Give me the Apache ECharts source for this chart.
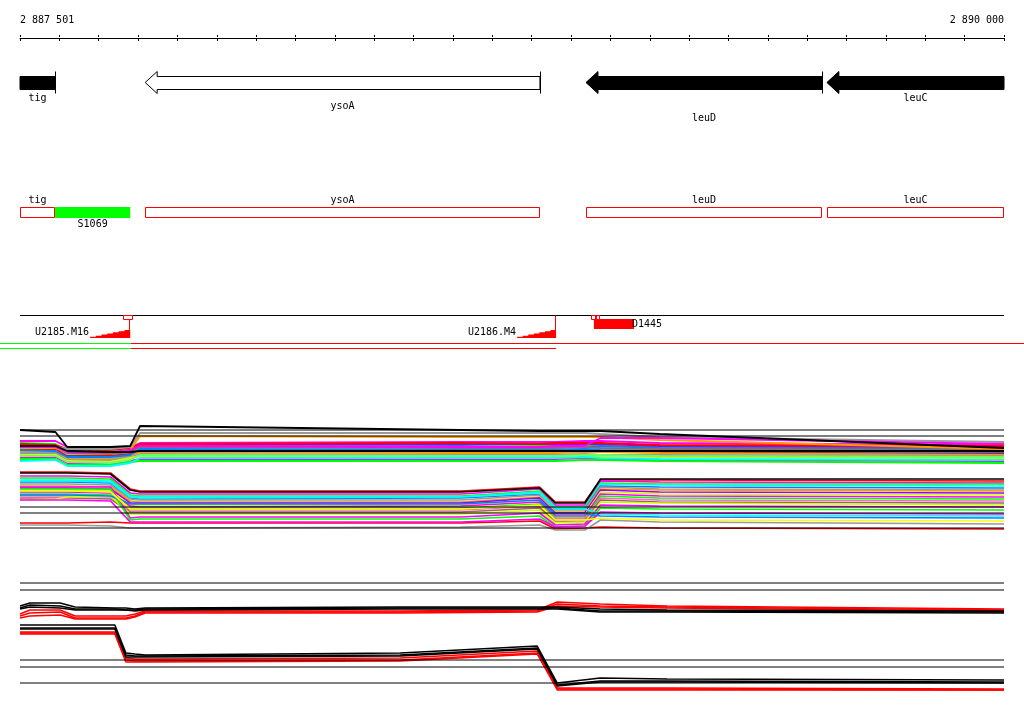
<!DOCTYPE html>
<html><head><meta charset="utf-8">
<script src="https://cdn.jsdelivr.net/npm/echarts@6/dist/echarts.min.js"></script>
<style>html,body{margin:0;padding:0;background:#fff}#c{width:1024px;height:714px}</style>
</head><body><div id="c"></div>
<script>
// ================= DATA =================
const axisMin = 2887500, axisMax = 2890000, tickStep = 100;
const rulerPos = [2887500, 2890000];
const rulerLabels = ['2 887 501', '2 890 000'];

const geneNames  = ['tig', 'ysoA', 'leuD', 'leuC'];
const geneStart  = [2887300, 2887818, 2888938, 2889550];
const geneEnd    = [2887589, 2888821, 2889538, 2890300];
const geneStrand = ['-', '-', '-', '-'];
const geneKind   = ['known', 'putative', 'known', 'known'];

const featNames = ['S1069'];
const featStart = [2887589];
const featEnd   = [2887780];

const breakNames = ['U2185.M16', 'U2186.M4', 'D1445'];
const breakStart = [2887678, 2888763, 2888958];
const breakEnd   = [2887780, 2888862, 2889060];
const breakType  = ['up', 'up', 'down'];
const markStart  = [2887762, 2888951, 2888963];
const markEnd    = [2887787, 2888963, 2888974];

const segStart = [2887449, 2887782, 2887449, 2887782];
const segEnd   = [2887782, 2890051, 2887782, 2888862];
const segRow   = [0, 0, 1, 1];
const segState = ['A', 'B', 'A', 'B'];

// expression panel 1 (sample positions, bp)
const xPos1 = [2887500, 2887590, 2887620, 2887730, 2887780, 2887805, 2888620, 2888820, 2888860, 2888935, 2888975, 2889125, 2890000];
const panel1Upper = [
  [9.9,9.9,9.3,9.2,9.3,9.7,9.8,9.8,9.8,9.9,9.9,9.7,9.5],
  [9.7,9.6,9.0,8.9,9.1,9.4,9.3,9.4,9.4,9.4,9.4,9.3,9.2],
  [9.3,9.4,8.6,8.5,8.8,9.2,9.1,9.1,9.1,9.2,9.2,9.0,8.8],
  [9.5,9.3,8.8,8.7,8.9,9.3,9.4,9.3,9.3,9.3,9.4,9.2,9.1],
  [9.1,9.1,8.4,8.4,8.6,9.0,8.9,8.9,8.9,9.0,8.9,8.8,8.6],
  [8.9,8.8,8.2,8.1,8.4,8.8,8.7,8.7,8.7,8.8,8.8,8.7,8.5],
  [8.7,8.7,8.0,8.0,8.3,8.6,8.5,8.5,8.5,8.6,8.5,8.5,8.4],
  [8.5,8.5,7.9,7.8,8.2,8.4,8.3,8.3,8.3,8.4,8.4,8.3,8.2],
  [9.4,9.3,8.9,8.8,8.9,9.5,9.6,9.6,9.6,9.6,9.6,9.4,9.3],
  [8.3,8.3,7.7,7.6,7.9,8.1,8.0,8.0,8.1,8.2,8.1,8.0,7.9],
  [8.1,8.1,7.5,7.5,7.8,7.9,7.9,7.9,7.9,8.0,8.0,7.9,7.7],
  [7.9,8.0,7.4,7.4,7.7,8.2,8.2,8.2,8.2,8.3,8.2,8.1,8.0],
  [9.6,9.5,9.1,9.0,9.2,9.6,9.7,9.6,9.7,9.7,9.7,9.5,9.4],
  [9.0,8.9,8.3,8.3,8.5,9.1,9.0,9.0,9.0,9.1,9.0,8.9,8.8],
  [9.2,9.2,8.7,8.6,8.8,9.3,9.2,9.2,9.2,9.3,9.2,9.1,9.0],
  [8.4,8.4,7.8,7.7,8.0,8.5,8.4,8.4,8.4,8.5,8.5,8.4,8.3],
  [9.3,9.3,9.1,9.1,9.3,10.7,10.7,10.7,10.7,10.7,10.6,10.3,9.8],
  [9.2,9.2,8.8,8.8,9.0,10.4,10.3,10.3,10.3,10.3,10.3,10.0,9.1],
  [9.3,9.3,8.8,8.8,9.0,9.4,9.3,9.3,9.4,9.4,10.2,10.2,9.6],
  [9.4,9.4,8.9,8.8,8.8,8.9,8.9,8.9,8.9,8.9,8.9,8.9,8.9],
  [11.0,10.8,9.3,9.3,9.4,11.4,11.0,10.9,10.9,10.9,10.9,10.6,9.2]
];
const panel1Lower = [
  [6.8,6.8,6.8,6.7,5.1,4.9,4.9,5.3,3.8,3.8,6.0,6.0,5.9],
  [6.4,6.4,6.4,6.3,4.7,4.6,4.6,5.1,3.5,3.5,5.9,5.8,5.7],
  [6.2,6.2,6.2,6.1,4.5,4.4,4.4,4.9,3.3,3.3,5.7,5.6,5.6],
  [6.0,6.0,6.0,5.9,4.4,4.3,4.3,4.8,3.2,3.2,5.6,5.5,5.4],
  [5.8,5.8,5.8,5.7,4.2,4.1,4.2,4.6,3.1,3.1,5.4,5.3,5.2],
  [5.6,5.6,5.6,5.5,4.1,4.0,4.0,4.5,3.0,3.0,5.3,5.1,5.0],
  [5.4,5.4,5.4,5.3,3.9,3.8,3.8,4.3,2.8,2.8,5.1,5.0,4.9],
  [5.2,5.2,5.2,5.1,3.7,3.7,3.7,4.2,2.7,2.7,5.0,4.8,4.7],
  [5.0,5.0,5.0,4.9,3.5,3.5,3.5,4.0,2.5,2.5,4.8,4.6,4.5],
  [4.8,4.8,4.8,4.7,3.4,3.3,3.4,3.8,2.4,2.4,4.6,4.4,4.3],
  [4.6,4.6,4.6,4.5,3.2,3.2,3.2,3.6,2.2,2.2,4.4,4.2,4.1],
  [4.4,4.4,4.4,4.3,3.0,3.0,3.0,3.4,2.1,2.1,4.2,4.0,3.9],
  [4.2,4.2,4.2,4.1,2.8,2.8,2.8,3.2,1.9,1.9,4.0,3.8,3.7],
  [4.0,4.1,4.3,4.4,2.6,2.6,2.6,3.0,1.7,1.8,3.8,3.7,3.5],
  [5.3,5.3,5.3,5.3,2.2,2.3,2.3,2.7,1.5,1.6,3.5,3.4,3.3],
  [5.1,5.1,5.1,5.1,2.0,2.1,2.1,2.4,1.3,1.4,3.2,3.1,3.0],
  [1.7,1.7,1.7,1.8,1.7,1.7,1.7,1.9,1.1,1.2,1.3,1.2,1.1],
  [1.5,1.5,1.5,1.4,1.2,1.2,1.3,1.5,1.0,1.0,2.0,1.8,1.6],
  [5.9,5.9,5.9,5.8,4.3,4.2,4.3,4.7,3.1,3.1,2.6,2.5,2.4],
  [4.0,4.0,4.0,3.9,1.8,1.8,1.8,2.1,1.3,1.4,2.8,2.7,2.6],
  [4.5,4.5,4.5,4.4,3.6,3.6,3.6,4.0,2.6,2.6,2.4,2.3,2.2],
  [4.9,4.9,4.9,4.8,3.1,3.1,3.1,3.5,2.0,2.0,2.2,2.0,1.9],
  [6.7,6.7,6.7,6.6,5.0,4.8,4.8,5.2,3.7,3.7,6.1,6.1,6.1]
];
const refs1 = [11.0, 10.4, 3.3, 2.7, 1.2];

// expression panel 2
const xPos2 = [2887500, 2887525, 2887602, 2887640, 2887741, 2887769, 2887792, 2887818, 2888466, 2888814, 2888865, 2888974, 2889144, 2890000];
const panel2Lines = [
  [7.9,8.3,8.3,7.7,7.7,7.7,7.9,8.2,8.2,8.3,9.1,8.9,8.7,8.4],
  [7.7,8.0,8.1,7.5,7.5,7.5,7.7,8.1,8.1,8.2,8.9,8.7,8.6,8.3],
  [7.5,7.7,7.8,7.4,7.4,7.4,7.6,8.0,8.0,8.1,8.7,8.6,8.5,8.2],
  [6.1,6.1,6.1,6.1,6.1,3.5,3.4,3.4,3.5,4.2,0.5,0.5,0.5,0.4],
  [6.0,6.0,6.0,6.0,6.0,3.3,3.2,3.2,3.3,4.0,0.4,0.4,0.4,0.3],
  [5.9,5.9,5.9,5.9,5.9,3.1,3.1,3.1,3.2,3.9,0.3,0.3,0.3,0.3],
  [8.7,9.0,9.0,8.6,8.5,8.5,8.4,8.5,8.6,8.6,8.6,8.4,8.3,8.2],
  [8.5,8.8,8.7,8.4,8.4,8.3,8.3,8.4,8.5,8.5,8.5,8.2,8.2,8.1],
  [8.4,8.6,8.5,8.3,8.3,8.3,8.2,8.3,8.4,8.4,8.4,8.1,8.1,8.0],
  [6.8,6.8,6.8,6.8,6.8,4.0,3.9,3.8,4.0,4.7,1.0,1.5,1.4,1.3],
  [6.5,6.5,6.5,6.5,6.5,3.8,3.7,3.7,3.8,4.5,0.8,1.2,1.2,1.1],
  [6.4,6.4,6.4,6.4,6.4,3.6,3.6,3.6,3.7,4.4,0.7,1.1,1.1,1.0]
];
const refs2 = [11.0, 10.3, 3.3, 2.6, 1.0];

// ================= STYLE / LAYOUT =================
const FONT = '10px "DejaVu Sans Mono", "Liberation Mono", monospace';
const upperColors = ['#ff00ff','#00ff00','#00ffff','#0080ff','#ff0000','#ff9900','#999999','#ccff00','#9900ff','#ff00ff','#00ff00','#00ffff','#ff0000','#0080ff','#996666','#66ff66','#999999','#ff9900','#ff00ff','#000000','#000000'];
const lowerColors = ['#ff0000','#ff00ff','#00ff00','#00ffff','#0080ff','#999999','#ff9900','#9900ff','#ccff00','#ff00ff','#00ff00','#ff66cc','#996666','#ccff00','#ff00ff','#00ff00','#ff0000','#999999','#00ffff','#ff00ff','#0080ff','#ffff00','#000000'];
const panel2Colors = ['#ff0000','#ff0000','#ff0000','#ff0000','#ff0000','#ff0000','#000000','#000000','#000000','#000000','#000000','#000000'];
const segColors = {A: '#00ff00', B: '#ff0000'};
const LAY = {
  rulerLabelY: 20,
  body: [76.5, 89.5], head: [71.5, 93.5], headLen: 12,
  geneLabelY: [98, 106, 118, 98],
  box: [207.5, 217.5], boxLabelY: 200, featLabelY: 224,
  baseY: 315.5, mark: [315.5, 319.5], triBottom: 338, triTop: 330, upLabelY: 332,
  down: [319, 329], downLabelY: 324,
  segY: [343.5, 348.5]
};

function clampX(params, a, b) {
  const cs = params.coordSys;
  return [Math.max(a, cs.x), Math.min(b, cs.x + cs.width), cs.x, cs.x + cs.width];
}
function txt(text, x, y, align) {
  return {type: 'text', style: {text, x, y, align: align || 'center', verticalAlign: 'middle', font: FONT, fill: '#000'}};
}

function renderRuler(params, api) {
  const i = api.value(2);
  const x = api.coord([api.value(0), 0])[0];
  return txt(rulerLabels[i], x, LAY.rulerLabelY, i === 0 ? 'left' : 'right');
}

function renderGene(params, api) {
  const i = api.value(2);
  const a = api.coord([api.value(0), 0])[0], b = api.coord([api.value(1), 0])[0];
  const [ca, cb, xmin, xmax] = clampX(params, a, b);
  const [y0, y1] = LAY.body, [h0, h1] = LAY.head, ym = (h0 + h1) / 2;
  const fill = geneKind[i] === 'known' ? '#000' : '#fff';
  let pts;
  if (geneStrand[i] === '-' && a >= xmin) {
    const xh = a + LAY.headLen;
    pts = [[cb, y0], [xh, y0], [xh, h0], [a, ym], [xh, h1], [xh, y1], [cb, y1]];
  } else if (geneStrand[i] === '+' && b <= xmax) {
    const xh = b - LAY.headLen;
    pts = [[ca, y0], [xh, y0], [xh, h0], [b, ym], [xh, h1], [xh, y1], [ca, y1]];
  } else {
    pts = [[ca, y0], [cb, y0], [cb, y1], [ca, y1]];
  }
  const ch = [{type: 'polygon', shape: {points: pts}, style: {fill, stroke: '#000', lineWidth: 1}}];
  const barX = geneStrand[i] === '-' ? b : a;
  if (barX >= xmin && barX <= xmax) {
    ch.push({type: 'line', shape: {x1: Math.round(barX) + 0.5, y1: h0, x2: Math.round(barX) + 0.5, y2: h1}, style: {stroke: '#000', lineWidth: 1}});
  }
  ch.push(txt(geneNames[i], (ca + cb) / 2, LAY.geneLabelY[i]));
  return {type: 'group', children: ch};
}

function renderBox(params, api) {
  const i = api.value(2);
  const a = api.coord([api.value(0), 0])[0], b = api.coord([api.value(1), 0])[0];
  const [ca, cb] = clampX(params, a, b);
  const [y0, y1] = LAY.box;
  return {type: 'group', children: [
    {type: 'rect', shape: {x: Math.round(ca) + 0.5, y: y0, width: Math.round(cb) - Math.round(ca) - 1, height: y1 - y0}, style: {fill: '#fff', stroke: '#ff0000', lineWidth: 1}},
    txt(geneNames[i], (ca + cb) / 2, LAY.boxLabelY)
  ]};
}

function renderFeat(params, api) {
  const i = api.value(2);
  const a = api.coord([api.value(0), 0])[0], b = api.coord([api.value(1), 0])[0];
  const [y0, y1] = LAY.box;
  return {type: 'group', children: [
    {type: 'rect', shape: {x: a, y: y0 - 0.5, width: b - a, height: y1 - y0 + 1}, style: {fill: '#00ff00'}},
    txt(featNames[i], (a + b) / 2, LAY.featLabelY)
  ]};
}

function renderBase(params, api) {
  const a = api.coord([api.value(0), 0])[0], b = api.coord([api.value(1), 0])[0];
  return {type: 'line', shape: {x1: a, y1: LAY.baseY, x2: b, y2: LAY.baseY}, style: {stroke: '#000', lineWidth: 1}};
}

function renderBreak(params, api) {
  const i = api.value(2);
  const a = api.coord([api.value(0), 0])[0], b = api.coord([api.value(1), 0])[0];
  if (breakType[i] === 'up') {
    const N = 7, H = LAY.triBottom - LAY.triTop, w = (b - a) / N, bot = LAY.triBottom;
    const pts = [[a, bot]];
    for (let k = 1; k <= N; k++) {
      const h = bot - H * k / N;
      pts.push([a + (k - 1) * w, h]);
      pts.push([a + k * w, h]);
    }
    pts.push([b, bot]);
    const xl = Math.round(b) - 0.5;
    return {type: 'group', children: [
      {type: 'polygon', shape: {points: pts}, style: {fill: '#ff0000'}},
      {type: 'line', shape: {x1: xl, y1: LAY.baseY, x2: xl, y2: bot}, style: {stroke: '#ff0000', lineWidth: 1}},
      txt(breakNames[i], a - 1, LAY.upLabelY, 'right')
    ]};
  }
  return {type: 'group', children: [
    {type: 'rect', shape: {x: a, y: LAY.down[0], width: b - a, height: LAY.down[1] - LAY.down[0]}, style: {fill: '#ff0000'}},
    txt(breakNames[i], b - 2, LAY.downLabelY, 'left')
  ]};
}

function renderMark(params, api) {
  const a = api.coord([api.value(0), 0])[0], b = api.coord([api.value(1), 0])[0];
  const [y0, y1] = LAY.mark;
  return {type: 'rect', shape: {x: Math.round(a) + 0.5, y: y0, width: Math.max(Math.round(b) - Math.round(a) - 1, 2), height: y1 - y0}, style: {fill: '#fff', stroke: '#ff0000', lineWidth: 1}};
}

function renderSeg(params, api) {
  const i = api.value(2);
  const a = api.coord([api.value(0), 0])[0], b = api.coord([api.value(1), 0])[0];
  const y = LAY.segY[segRow[i]] - 0.5;
  return {type: 'rect', shape: {x: a, y: y, width: b - a, height: 1}, style: {fill: segColors[segState[i]]}};
}

function custom(render, data, z) {
  return {type: 'custom', xAxisIndex: 0, yAxisIndex: 0, clip: false, silent: true, animation: false, z: z || 2,
    renderItem: render, data};
}
function idxData(starts, ends) { return starts.map((s, i) => [s, ends[i], i]); }

function lineS(xs, vals, color, axis, w) {
  return {type: 'line', xAxisIndex: axis + 1, yAxisIndex: axis, data: xs.map((x, k) => [x, vals[k]]),
    symbol: 'none', showSymbol: false, lineStyle: {color, width: w}, silent: true, animation: false};
}
function refS(v, axis) {
  return {type: 'line', xAxisIndex: axis + 1, yAxisIndex: axis, data: [[axisMin, v], [axisMax, v]],
    symbol: 'none', lineStyle: {color: '#000', width: 1}, silent: true, animation: false, z: 3};
}

const series = [];
series.push(custom(renderRuler, rulerPos.map((p, i) => [p, p, i])));
series.push(custom(renderGene, idxData(geneStart, geneEnd)));
series.push(custom(renderBox, idxData(geneStart, geneEnd)));
series.push(custom(renderFeat, idxData(featStart, featEnd), 3));
series.push(custom(renderBase, [[axisMin, axisMax, 0]]));
series.push(custom(renderBreak, idxData(breakStart, breakEnd), 3));
series.push(custom(renderMark, idxData(markStart, markEnd), 4));
series.push(custom(renderSeg, idxData(segStart, segEnd), 5));

panel1Upper.forEach((v, i) => series.push(lineS(xPos1, v, upperColors[i], 1, 1.8)));
panel1Lower.forEach((v, i) => series.push(lineS(xPos1, v, lowerColors[i], 1, 1.7)));
refs1.forEach(v => series.push(refS(v, 1)));
panel2Lines.forEach((v, i) => series.push(lineS(xPos2, v, panel2Colors[i], 2, 1.5)));
refs2.forEach(v => series.push(refS(v, 2)));

const hiddenX = (g) => ({gridIndex: g, type: 'value', min: axisMin, max: axisMax, show: false});
const option = {
  backgroundColor: '#fff',
  animation: false,
  grid: [
    {left: 20, right: 20, top: 37, height: 1},
    {left: 20, right: 20, top: 420, height: 120},
    {left: 20, right: 20, top: 573, height: 120}
  ],
  xAxis: [
    {gridIndex: 0, type: 'value', position: 'bottom', min: axisMin, max: axisMax, interval: tickStep,
      axisLine: {show: true, lineStyle: {color: '#000', width: 1}},
      axisTick: {show: true, length: 3, lineStyle: {color: '#000', width: 1}},
      axisLabel: {show: false}, splitLine: {show: false}},
    {gridIndex: 0, type: 'value', position: 'top', min: axisMin, max: axisMax, interval: tickStep,
      axisLine: {show: false},
      axisTick: {show: true, length: 2, lineStyle: {color: '#000', width: 1}},
      axisLabel: {show: false}, splitLine: {show: false}},
    hiddenX(1),
    hiddenX(2)
  ],
  yAxis: [
    {gridIndex: 0, type: 'value', min: 0, max: 1, show: false},
    {gridIndex: 1, type: 'value', min: 0, max: 12, show: false},
    {gridIndex: 2, type: 'value', min: 0, max: 12, show: false}
  ],
  series
};
const chart = echarts.init(document.getElementById('c'), null, {renderer: 'canvas'});
chart.setOption(option);
</script>
</body></html>
